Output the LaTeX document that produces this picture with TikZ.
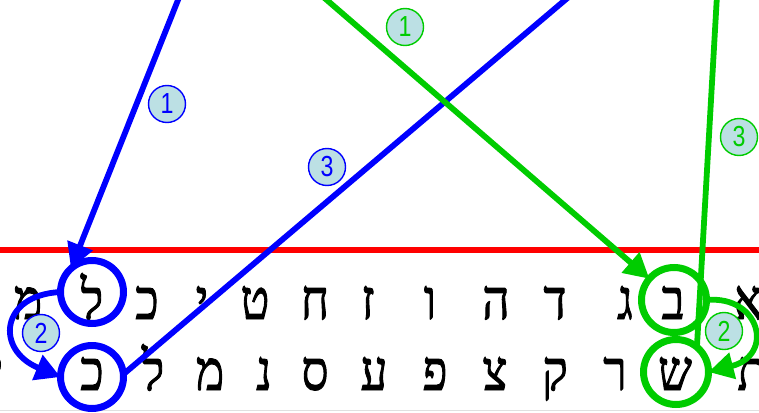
\documentclass[tikz,border=0pt]{standalone}
\usepackage{fontspec}
\usetikzlibrary{arrows.meta}
\newfontfamily\hebfont[Script=Hebrew,FakeBold=1.6,FakeStretch=0.85]{Liberation Serif}
\newfontfamily\digfont[FakeStretch=0.8]{Liberation Sans}
\definecolor{myblue}{RGB}{0,0,255}
\definecolor{mygreen}{RGB}{0,204,0}
\definecolor{myred}{RGB}{255,0,0}
\definecolor{lblfill}{RGB}{188,224,228}
\tikzset{
  heb/.style={anchor=base, inner sep=0pt, font=\hebfont\fontsize{56}{56}\selectfont},
  ring/.style={circle, line width=7pt, minimum size=#1, inner sep=0pt, outer sep=0pt},
  bluering/.style={ring=63pt, draw=myblue},
  greenring/.style={ring=65pt, draw=mygreen},
  lbl/.style={circle, draw=#1, text=#1, fill=lblfill, line width=1.4pt, minimum size=37pt, inner sep=0pt, font=\digfont\fontsize{29}{29}\selectfont},
  conn/.style={line width=5.8pt},
  headarrow/.style={-{Triangle[length=25pt,width=26pt]}},
}
\begin{document}
\begin{tikzpicture}[x=1pt,y=-1pt]
\useasboundingbox (0,0) rectangle (759,412);
\clip (0,0) rectangle (759,412);
% red line and faint bottom line
\coordinate (redL) at (-5,249.5);
\coordinate (redR) at (765,249.5);
\draw[myred, line width=6pt] (redL) -- (redR);
\coordinate (grL) at (0,410.5);
\coordinate (grR) at (759,410.5);
\draw[black!12, line width=1pt] (grL) -- (grR);
% top row letters
\node[heb] (t13) at (28,319) {מ};
\node[heb] (t12) at (92,319) {ל};
\node[heb] (t11) at (147,319) {כ};
\node[heb] (t10) at (202,319) {י};
\node[heb] (t9) at (255,319) {ט};
\node[heb] (t8) at (315,319) {ח};
\node[heb] (t7) at (368,319) {ז};
\node[heb] (t6) at (430,319) {ו};
\node[heb] (t5) at (496,319) {ה};
\node[heb] (t4) at (555,319) {ד};
\node[heb] (t3) at (625,319) {ג};
\node[heb] (t2) at (673,319) {ב};
\node[heb] (t1) at (748,319) {א};
% bottom row letters
\node[heb] (b13) at (-3,390) {י};
\node[heb] (b12) at (92,390) {כ};
\node[heb] (b11) at (153,390) {ל};
\node[heb] (b10) at (210,390) {מ};
\node[heb] (b9) at (264,390) {נ};
\node[heb] (b8) at (315,390) {ס};
\node[heb] (b7) at (374,390) {ע};
\node[heb] (b6) at (435,390) {פ};
\node[heb] (b5) at (495,390) {צ};
\node[heb] (b4) at (555,390) {ק};
\node[heb] (b3) at (615,390) {ר};
\node[heb] (b2) at (675,390) {ש};
\node[heb] (b1) at (752,390) {ת};
% rings
\node[bluering] (cL) at (92,292) {};
\node[bluering] (cK) at (92,377) {};
\node[greenring] (cB) at (674,300) {};
\node[greenring] (cS) at (676,372) {};
% free ends at the top
\coordinate (b1top) at (180,-5);
\coordinate (b3top) at (571,-5);
\coordinate (g1top) at (321,-5);
\coordinate (g3top) at (717,-5);
% blue connectors
\draw[conn, myblue, headarrow] (b1top) -- (cL.132);
\draw[conn, myblue, headarrow] (cL.180) .. controls (0,295) and (-5,350) .. (cK.180);
\draw[conn, myblue] (cK.5) -- (b3top);
% green connectors
\draw[conn, mygreen, headarrow] (g1top) -- (cB);
\draw[conn, mygreen, headarrow] (cB.0) .. controls (760,295) and (775,355) .. (cS.0);
\draw[conn, mygreen] (cS.50) -- (g3top);
% labels
\node[lbl=myblue] (lb1) at (167,104) {1};
\node[lbl=myblue] (lb2) at (41,333) {2};
\node[lbl=myblue] (lb3) at (327,167) {3};
\node[lbl=mygreen] (lg1) at (405,27) {1};
\node[lbl=mygreen] (lg2) at (724,331) {2};
\node[lbl=mygreen] (lg3) at (739,137) {3};
\end{tikzpicture}
\end{document}
